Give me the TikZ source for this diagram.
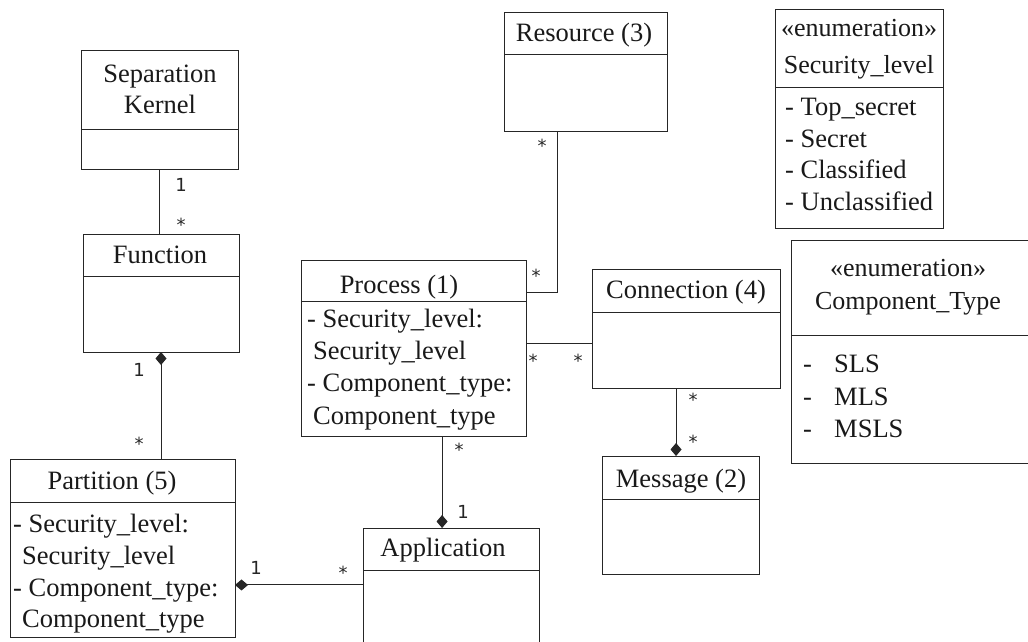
\documentclass[tikz,border=0pt]{standalone}
\usepackage{fontspec}
\setmainfont{Liberation Serif}
\newfontfamily\labfont{DejaVu Sans}
\usetikzlibrary{arrows.meta,calc}
\begin{document}
\begin{tikzpicture}[x=1pt,y=-1pt,
  cls/.style={draw=black!85, line width=1pt, anchor=north west, inner sep=0pt, outer sep=0pt},
  divline/.style={draw=black!85, line width=1pt},
  ttl/.style={anchor=base, inner sep=0pt, text=black!90, font=\fontsize{26.5}{30}\selectfont},
  enumttl/.style={ttl, font=\fontsize{26}{30}\selectfont},
  att/.style={anchor=base west, inner sep=0pt, text=black!90, font=\fontsize{26.5}{30}\selectfont},
  conn/.style={draw=black!85, line width=1pt},
  comp/.style={conn, {Diamond[length=13pt,width=11pt]}-},
  mult/.style={inner sep=0pt, anchor=base, text=black!85, font=\labfont\fontsize{18}{20}\selectfont},
]
\useasboundingbox (0,0) rectangle (1028,642);
\fill[white] (0,0) rectangle (1028,642);

% ---- Separation Kernel
\node[cls, minimum width=157pt, minimum height=118pt] (sk) at (81,51) {};
\draw[divline] (81,129) -- (238,129);
\node[ttl] (skt1) at (160,82) {Separation};
\node[ttl] (skt2) at (160,113) {Kernel};

% ---- Function
\node[cls, minimum width=156pt, minimum height=118pt] (func) at (83,234) {};
\draw[divline] (83,276) -- (239,276);
\node[ttl] (funct) at (160,263) {Function};

% ---- Partition
\node[cls, minimum width=225pt, minimum height=178pt] (part) at (10,459) {};
\draw[divline] (10,502) -- (235,502);
\node[ttl] (partt) at (112,489) {Partition (5)};
\node[att] (pa1) at (13,532) {- Security\_level:};
\node[att] (pa2) at (22,564) {Security\_level};
\node[att] (pa3) at (13,596) {- Component\_type:};
\node[att] (pa4) at (22,627) {Component\_type};

% ---- Process
\node[cls, minimum width=225pt, minimum height=176pt] (proc) at (301,260) {};
\draw[divline] (301,301) -- (526,301);
\node[ttl] (proct) at (399,293) {Process (1)};
\node[att] (pr1) at (307,327) {- Security\_level:};
\node[att] (pr2) at (313,359) {Security\_level};
\node[att] (pr3) at (307,391) {- Component\_type:};
\node[att] (pr4) at (313,424) {Component\_type};

% ---- Resource
\node[cls, minimum width=163pt, minimum height=118pt] (res) at (504,13) {};
\draw[divline] (504,55) -- (667,55);
\node[ttl] (rest) at (584,42) {Resource (3)};

% ---- Connection
\node[cls, minimum width=188pt, minimum height=119pt] (cnx) at (592,269) {};
\draw[divline] (592,312) -- (780,312);
\node[ttl] (cnxt) at (686,298) {Connection (4)};

% ---- Message
\node[cls, minimum width=157pt, minimum height=118pt] (msg) at (602,456) {};
\draw[divline] (602,499) -- (759,499);
\node[ttl] (msgt) at (681,487) {Message (2)};

% ---- Application
\node[cls, minimum width=176pt, minimum height=138pt] (app) at (363,528) {};
\draw[divline] (363,570) -- (539,570);
\node[ttl] (appt) at (443,556) {Application};

% ---- Enumeration Security_level
\node[cls, minimum width=168pt, minimum height=218pt] (esl) at (775,10) {};
\draw[divline] (775,87) -- (943,87);
\node[enumttl] (eslt1) at (859,37) {«enumeration»};
\node[enumttl] (eslt2) at (859,74) {Security\_level};
\node[att] (es1) at (785,115) {- Top\_secret};
\node[att] (es2) at (785,147) {- Secret};
\node[att] (es3) at (785,178) {- Classified};
\node[att] (es4) at (785,210) {- Unclassified};

% ---- Enumeration Component_Type
\node[cls, minimum width=242pt, minimum height=223pt] (ect) at (791,240) {};
\draw[divline] (791,335) -- (1033,335);
\node[enumttl] (ectt1) at (908,276) {«enumeration»};
\node[enumttl] (ectt2) at (908,309) {Component\_Type};
\node[att] (ed1) at (803,372) {-};
\node[att] (ed2) at (803,405) {-};
\node[att] (ed3) at (803,437) {-};
\node[att] (ec1) at (834,372) {SLS};
\node[att] (ec2) at (834,405) {MLS};
\node[att] (ec3) at (834,437) {MSLS};

% ---- Connectors
\draw[conn] (sk.south) -- (sk.south |- func.north);
\draw[comp] (func.south) -- (func.south |- part.north);

\coordinate (ap) at ($(app.north west)!0.413!(app.south west)$);
\draw[comp] (ap -| part.east) -- (ap);

\coordinate (pb) at ($(proc.south west)!0.627!(proc.south east)$);
\draw[comp] (pb |- app.north) -- (pb);

\coordinate (pr) at ($(proc.north east)!0.182!(proc.south east)$);
\coordinate (rs) at ($(res.south west)!0.331!(res.south east)$);
\draw[conn] (pr) -| (rs);

\coordinate (pc) at ($(proc.north east)!0.477!(proc.south east)$);
\draw[conn] (pc) -- (pc -| cnx.west);

\coordinate (cb) at ($(cnx.south west)!0.447!(cnx.south east)$);
\draw[comp] (cb |- msg.north) -- (cb);

% ---- Multiplicities
\node[mult] (m1) at (181,191) {1};
\node[mult] (m2) at (181,231) {*};
\node[mult] (m3) at (139,376) {1};
\node[mult] (m4) at (139,450) {*};
\node[mult] (m5) at (256,574) {1};
\node[mult] (m6) at (343,579) {*};
\node[mult] (m7) at (459,456) {*};
\node[mult] (m8) at (463,518) {1};
\node[mult] (m9) at (536,282) {*};
\node[mult] (m10) at (542,152) {*};
\node[mult] (m11) at (533,367) {*};
\node[mult] (m12) at (578,367) {*};
\node[mult] (m13) at (693,406) {*};
\node[mult] (m14) at (693,448) {*};
\end{tikzpicture}
\end{document}
